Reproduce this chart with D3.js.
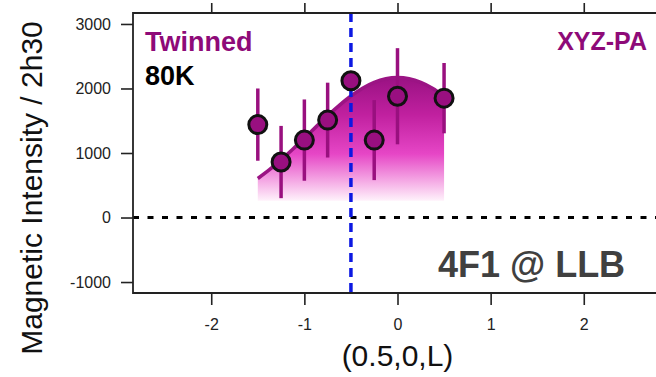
<!DOCTYPE html>
<html>
<head>
<meta charset="utf-8">
<script src="https://cdn.jsdelivr.net/npm/d3@7"></script>
<style>
  body { margin: 0; background: #fff; }
  svg text { font-family: "Liberation Sans", Arial, sans-serif; }
</style>
</head>
<body>
<div id="chart"></div>
<script>
// measured points
let qL = [-1.5, -1.25, -1, -0.75, -0.5, -0.25, 0, 0.5];
let intensity = [1440, 860, 1200, 1510, 2120, 1200, 1880, 1850];
let errors = [560, 560, 630, 580, 150, 620, 745, 545];

// fitted curve
let fitL = [-1.5, -1.375, -1.25, -1.125, -1, -0.875, -0.75, -0.625, -0.5, -0.375, -0.25, -0.125, 0, 0.125, 0.25, 0.375, 0.5];
let fitI = [605, 742, 894, 1058, 1230, 1405, 1577, 1738, 1883, 2004, 2094, 2151, 2170, 2151, 2094, 2004, 1883];
let fitBase = 260;

let xTicks = [-2, -1, 0, 1, 2];
let yTicks = [-1000, 0, 1000, 2000, 3000];
let markerL = -0.5;

let w = 656, h = 377;
let plotLeft = 133, plotTop = 13, plotBottom = 293, plotRight = 662;

let svg = d3.select("#chart").append("svg")
    .attr("width", w)
    .attr("height", h);

let xScale = d3.scaleLinear()
    .domain([-2.84, 2.84])
    .range([plotLeft, plotRight]);
let yScale = d3.scaleLinear()
    .domain([-1170, 3170])
    .range([plotBottom, plotTop]);

let defs = svg.append("defs");
let grad = defs.append("linearGradient")
    .attr("id", "fitGrad")
    .attr("x1", 0).attr("y1", 0).attr("x2", 0).attr("y2", 1);
grad.append("stop").attr("offset", "0%").attr("stop-color", "#9a1283");
grad.append("stop").attr("offset", "30%").attr("stop-color", "#c0209f");
grad.append("stop").attr("offset", "62%").attr("stop-color", "#e646c6");
grad.append("stop").attr("offset", "100%").attr("stop-color", "#fff2fb");

// fit area
let area = d3.area()
    .x((d, i) => xScale(fitL[i]))
    .y0(yScale(fitBase))
    .y1((d, i) => yScale(fitI[i]))
    .curve(d3.curveMonotoneX);
svg.append("path")
    .datum(fitI)
    .attr("d", area)
    .attr("fill", "url(#fitGrad)");

let line = d3.line()
    .x((d, i) => xScale(fitL[i]))
    .y((d, i) => yScale(fitI[i]))
    .curve(d3.curveMonotoneX);
svg.append("path")
    .datum(fitI)
    .attr("d", line)
    .attr("fill", "none")
    .attr("stroke", "#9b1484")
    .attr("stroke-width", 3.5);

// zero line
svg.append("line")
    .attr("x1", xScale(-2.84)).attr("x2", w)
    .attr("y1", yScale(0)).attr("y2", yScale(0))
    .attr("stroke", "#000")
    .attr("stroke-width", 3)
    .attr("stroke-dasharray", "6,8.5");

// error bars
svg.selectAll(".err")
    .data(intensity)
    .enter()
    .append("line")
    .attr("class", "err")
    .attr("x1", (d, i) => xScale(qL[i]))
    .attr("x2", (d, i) => xScale(qL[i]))
    .attr("y1", (d, i) => yScale(d + errors[i]))
    .attr("y2", (d, i) => yScale(d - errors[i]))
    .attr("stroke", "#99107f")
    .attr("stroke-width", 3.5);

// blue marker line
svg.append("line")
    .attr("x1", xScale(markerL)).attr("x2", xScale(markerL))
    .attr("y1", plotTop).attr("y2", plotBottom)
    .attr("stroke", "#0c18e2")
    .attr("stroke-width", 3.5)
    .attr("stroke-dasharray", "9,6");

// points
svg.selectAll(".pt")
    .data(intensity)
    .enter()
    .append("circle")
    .attr("class", "pt")
    .attr("cx", (d, i) => xScale(qL[i]))
    .attr("cy", (d) => yScale(d))
    .attr("r", 9)
    .attr("fill", "#990f80")
    .attr("stroke", "#111")
    .attr("stroke-width", 3);

// axes
let axisStyle = (g) => {
    g.select(".domain").remove();
    g.selectAll(".tick line").attr("stroke", "#222").attr("stroke-width", 1.6);
    g.selectAll(".tick text").attr("fill", "#222").style("font-size", "16px")
        .style("font-family", "'Liberation Sans', Arial, sans-serif");
};
svg.append("g")
    .attr("transform", "translate(0," + plotBottom + ")")
    .call(d3.axisBottom(xScale).tickValues(xTicks).tickSize(12).tickPadding(14)
        .tickFormat((d) => String(d)))
    .call(axisStyle);
svg.append("g")
    .attr("transform", "translate(0," + plotTop + ")")
    .call(d3.axisTop(xScale).tickValues(xTicks).tickSize(10).tickFormat(""))
    .call(axisStyle);
svg.append("g")
    .attr("transform", "translate(" + plotLeft + ",0)")
    .call(d3.axisLeft(yScale).tickValues(yTicks).tickSize(12).tickPadding(10)
        .tickFormat((d) => String(d)))
    .call(axisStyle);

// frame
svg.append("path")
    .attr("d", "M" + w + "," + plotTop + "H" + plotLeft + "V" + plotBottom + "H" + w)
    .attr("fill", "none")
    .attr("stroke", "#222")
    .attr("stroke-width", 1.8);

// labels
svg.append("text")
    .attr("transform", "translate(42," + 188 + ") rotate(-90)")
    .attr("text-anchor", "middle")
    .style("font-size", "30px")
    .attr("fill", "#111")
    .text("Magnetic Intensity / 2h30");
svg.append("text")
    .attr("x", xScale(0)).attr("y", 366)
    .attr("text-anchor", "middle")
    .style("font-size", "30px")
    .attr("fill", "#111")
    .text("(0.5,0,L)");

svg.append("text")
    .attr("x", 145).attr("y", 51)
    .style("font-size", "27px").style("font-weight", "bold")
    .attr("fill", "#8e0a78")
    .text("Twinned");
svg.append("text")
    .attr("x", 145).attr("y", 85)
    .style("font-size", "27px").style("font-weight", "bold")
    .attr("fill", "#000")
    .text("80K");
svg.append("text")
    .attr("x", 647).attr("y", 50)
    .attr("text-anchor", "end")
    .style("font-size", "25px").style("font-weight", "bold")
    .attr("fill", "#8e0a78")
    .text("XYZ-PA");
svg.append("text")
    .attr("x", 438).attr("y", 277)
    .style("font-size", "36px").style("font-weight", "bold")
    .attr("fill", "#404040")
    .text("4F1 @ LLB");
</script>
</body>
</html>
